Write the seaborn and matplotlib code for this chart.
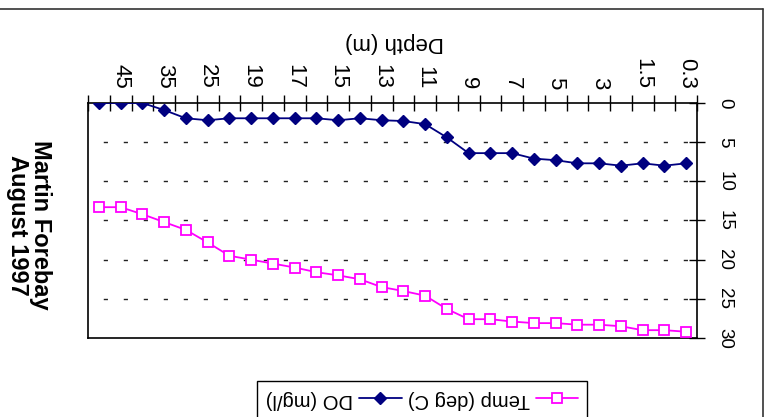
import matplotlib
matplotlib.use("Agg")
import matplotlib.pyplot as plt
from matplotlib.lines import Line2D
from matplotlib.ticker import FixedLocator, NullFormatter
import numpy as np
import pandas as pd
import seaborn as sns

# Sampling depths (m), surface first
depths = [0.3, 1, 1.5, 2, 3, 4, 5, 6, 7, 8, 9, 10, 11, 12, 13, 14,
          15, 16, 17, 18, 19, 20, 25, 30, 35, 40, 45, 50]
# Dissolved oxygen (mg/l) at each depth
do_mgl = [7.7, 8.0, 7.7, 8.0, 7.7, 7.7, 7.3, 7.1, 6.4, 6.4, 6.4, 4.4, 2.7, 2.3,
          2.2, 1.95, 2.2, 1.95, 1.95, 1.95, 1.95, 1.95, 2.2, 1.95, 0.9, 0.0, 0.0, 0.0]
# Water temperature (deg C) at each depth
temp_c = [29.2, 29.0, 29.0, 28.5, 28.3, 28.3, 28.1, 28.1, 27.9, 27.6, 27.6, 26.3,
          24.6, 24.0, 23.5, 22.5, 22.0, 21.6, 21.0, 20.5, 20.0, 19.5, 17.8, 16.2,
          15.2, 14.2, 13.3, 13.3]
value_ticks = [0, 5, 10, 15, 20, 25, 30]

title = "Martin Forebay\nAugust 1997"
depth_label = "Depth (m)"
do_name = "DO (mg/l)"
temp_name = "Temp (deg C)"

sns.set_style("white")
plt.rcParams["font.family"] = ["Liberation Sans", "DejaVu Sans"]
plt.rcParams["text.color"] = "black"
plt.rcParams["xtick.color"] = "black"
plt.rcParams["ytick.color"] = "black"

df = pd.DataFrame({"pos": np.arange(len(depths)), "depth": depths,
                   "DO": do_mgl, "Temp": temp_c})

W, H = 768, 417
fig = plt.figure(figsize=(W / 100, H / 100), dpi=100)
ax = fig.add_axes([88 / W, 1 - 338 / H, (697 - 88) / W, (338 - 103) / H])

navy = "#000080"
magenta = "#FF00FF"

sns.lineplot(data=df, x="pos", y="DO", ax=ax, color=navy, lw=1.3,
             marker="D", markersize=6, markeredgecolor=navy, markerfacecolor=navy,
             markeredgewidth=1, legend=False, zorder=4)
sns.lineplot(data=df, x="pos", y="Temp", ax=ax, color=magenta, lw=1.3,
             marker="s", markersize=7.5, markeredgecolor=magenta, markerfacecolor="white",
             markeredgewidth=1.3, legend=False, zorder=4)

n = len(depths)
ax.set_xlim(n - 0.5, -0.5)
ax.set_ylim(30, 0)
ax.set_xlabel("")
ax.set_ylabel("")

# category axis along the top: boundary ticks, every other depth labelled
ax.xaxis.set_ticks_position("top")
ax.xaxis.set_major_locator(FixedLocator(np.arange(-0.5, n, 1.0)))
ax.xaxis.set_major_formatter(NullFormatter())
ax.xaxis.set_minor_locator(FixedLocator(df["pos"][::2].tolist()))
ax.set_xticklabels([f"{d:g}" for d in depths[::2]], minor=True)
ax.tick_params(axis="x", which="major", direction="inout", length=11, width=1,
               color="black", top=True, bottom=False)
ax.tick_params(axis="x", which="minor", length=0, labeltop=True, labelbottom=False,
               top=True, bottom=False, labelsize=16, labelrotation=-90, pad=10,
               labelcolor="black")

# value axis along the right side
ax.yaxis.set_ticks_position("right")
ax.set_yticks(value_ticks)
ax.set_yticklabels([str(v) for v in value_ticks])
ax.tick_params(axis="y", direction="inout", length=12, width=1, color="black",
               labelsize=13.5, labelrotation=-90, pad=8, right=True, left=False,
               labelcolor="black")
for lab in ax.get_yticklabels():
    lab.set_va("center")

ax.grid(False)
for v in value_ticks[1:-1]:
    ax.axhline(v, color="#222222", lw=1, linestyle=(3.4, (3, 11.4)), zorder=1)

for sp in ax.spines.values():
    sp.set_visible(True)
    sp.set_color("black")
    sp.set_linewidth(1.2)

# chart title and axis title
fig.text(29 / W, 1 - 225 / H, title, rotation=-90, ha="center", va="center",
         fontsize=17, fontweight="bold", linespacing=0.95, multialignment="center",
         color="black")
fig.text(395 / W, 1 - 43 / H, depth_label, rotation=180, ha="center", va="center",
         fontsize=16, color="black")

# legend
handles = [
    Line2D([], [], color=navy, lw=1.3, marker="D", markersize=6,
           markerfacecolor=navy, markeredgecolor=navy),
    Line2D([], [], color=magenta, lw=1.3, marker="s", markersize=7.5,
           markerfacecolor="white", markeredgecolor=magenta, markeredgewidth=1.3),
]
leg = fig.legend(handles, [do_name, temp_name], loc="upper center",
                 bbox_to_anchor=(422 / W, 1 - 381 / H), ncol=2, markerfirst=False,
                 fontsize=14.5, frameon=True, fancybox=False, framealpha=1,
                 edgecolor="black", borderpad=0.45, handlelength=2.1,
                 handletextpad=0.3, columnspacing=0.3, borderaxespad=0)
leg.get_frame().set_linewidth(1)
for t in leg.get_texts():
    t.set_rotation(180)
    t.set_color("black")

# outer chart border (top and right edges)
fig.add_artist(Line2D([0, 763 / W], [1 - 9 / H, 1 - 9 / H], transform=fig.transFigure,
                      color="#333333", lw=1.2))
fig.add_artist(Line2D([763 / W, 763 / W], [1 - 9 / H, 0], transform=fig.transFigure,
                      color="#333333", lw=1.2))

fig.savefig("out.png", dpi=100)
